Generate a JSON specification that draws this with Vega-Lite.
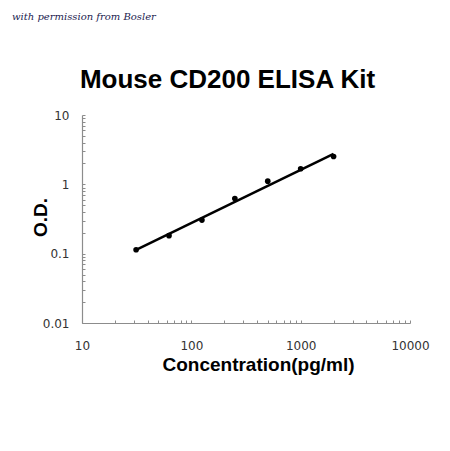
{
  "$schema": "https://vega.github.io/schema/vega-lite/v6.json",
  "width": 328,
  "height": 208,
  "autosize": {"type": "none"},
  "padding": {"left": 82, "top": 115, "right": 40, "bottom": 128},
  "background": "white",
  "title": {
    "text": "with permission from Bosler",
    "font": "DejaVu Serif",
    "fontStyle": "italic",
    "fontWeight": "normal",
    "fontSize": 10,
    "color": "#1c1c50",
    "anchor": "start",
    "frame": "group",
    "baseline": "alphabetic",
    "dx": -70,
    "offset": 36
  },
  "datasets": {
    "standards": [
      {"conc": 31.25, "od": 0.114},
      {"conc": 62.5, "od": 0.182},
      {"conc": 125, "od": 0.305},
      {"conc": 250, "od": 0.625},
      {"conc": 500, "od": 1.11},
      {"conc": 1000, "od": 1.68},
      {"conc": 2000, "od": 2.52}
    ],
    "fit": [
      {"conc": 31.25, "od": 0.113},
      {"conc": 2000, "od": 2.74}
    ]
  },
  "layer": [
    {
      "data": {"name": "standards"},
      "mark": {"type": "point", "filled": true, "color": "#000000", "size": 32, "opacity": 1},
      "encoding": {
        "x": {
          "field": "conc",
          "type": "quantitative",
          "scale": {"type": "log", "domain": [10, 10000], "nice": false},
          "axis": {
            "title": "Concentration(pg/ml)",
            "values": [10, 20, 30, 40, 50, 60, 70, 80, 90, 100, 200, 300, 400, 500, 600, 700, 800, 900, 1000, 2000, 3000, 4000, 5000, 6000, 7000, 8000, 9000, 10000],
            "labelExpr": "indexof([10, 100, 1000, 10000], datum.value) >= 0 ? datum.value + '' : ''",
            "labelOverlap": false,
            "labelFlush": false,
            "tickSize": -3,
            "labelPadding": 20,
            "titleFontSize": 19,
            "titleX": 176,
            "titleY": 47,
            "titleBaseline": "alphabetic",
            "titleAlign": "center"
          }
        },
        "y": {
          "field": "od",
          "type": "quantitative",
          "scale": {"type": "log", "domain": [0.01, 10], "nice": false},
          "axis": {
            "title": "O.D.",
            "values": [0.01, 0.02, 0.03, 0.04, 0.05, 0.06, 0.07, 0.08, 0.09, 0.1, 0.2, 0.3, 0.4, 0.5, 0.6, 0.7, 0.8, 0.9, 1, 2, 3, 4, 5, 6, 7, 8, 9, 10],
            "labelExpr": "indexof([0.01, 0.1, 1, 10], datum.value) >= 0 ? datum.value + '' : ''",
            "labelOverlap": false,
            "labelFlush": false,
            "tickSize": -3,
            "labelPadding": 16,
            "titleFontSize": 19,
            "titleAngle": -90,
            "titleX": -42,
            "titleY": 102,
            "titleBaseline": "middle",
            "titleAlign": "center"
          }
        }
      }
    },
    {
      "data": {"name": "fit"},
      "mark": {"type": "line", "color": "#000000", "strokeWidth": 2.5},
      "encoding": {
        "x": {
          "field": "conc",
          "type": "quantitative",
          "axis": {
            "orient": "top",
            "domain": false,
            "ticks": false,
            "labels": false,
            "grid": false,
            "title": "Mouse CD200 ELISA Kit",
            "titleFont": "Liberation Sans",
            "titleFontSize": 26,
            "titleFontWeight": "bold",
            "titleColor": "#000000",
            "titleAlign": "center",
            "titleBaseline": "alphabetic",
            "titleX": 145,
            "titleY": -28
          }
        },
        "y": {"field": "od", "type": "quantitative"}
      }
    }
  ],
  "resolve": {"axis": {"x": "independent"}},
  "config": {
    "view": {"stroke": null},
    "axis": {
      "grid": false,
      "domainColor": "#8c8c8c",
      "domainWidth": 1.2,
      "tickColor": "#8c8c8c",
      "labelFont": "DejaVu Sans",
      "labelFontSize": 12,
      "labelColor": "#333333",
      "titleFont": "Liberation Sans",
      "titleFontSize": 17,
      "titleFontWeight": "bold",
      "titleColor": "#000000"
    }
  }
}
